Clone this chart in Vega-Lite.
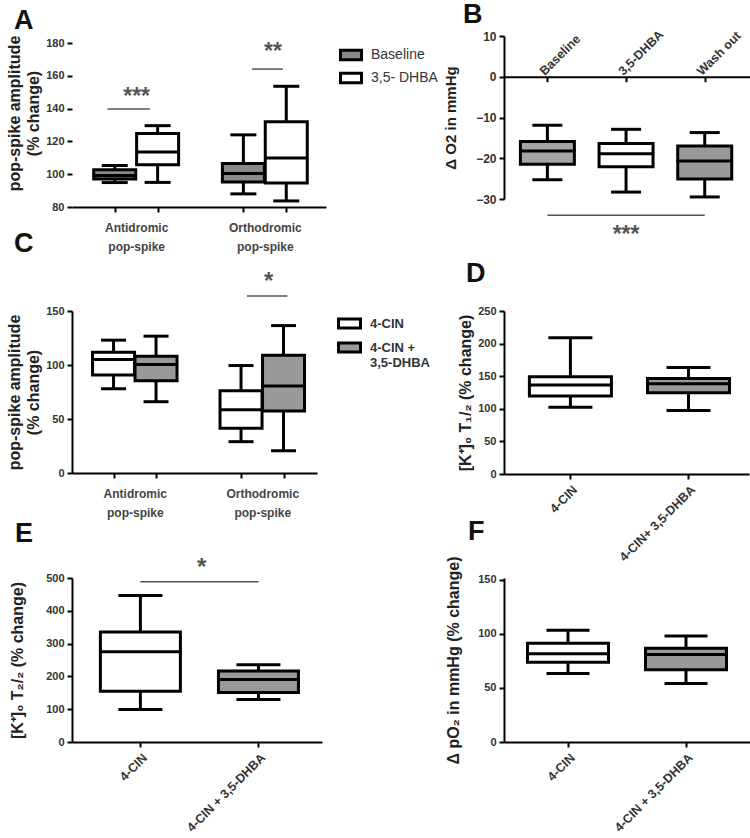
{
  "$schema": "https://vega.github.io/schema/vega-lite/v6.json",
  "background": "white",
  "padding": {"left": 6, "top": 0, "right": 0, "bottom": 0},
  "config": {
    "font": "Liberation Sans",
    "view": {"stroke": null},
    "axis": {"domainColor": "black", "domainWidth": 2, "tickColor": "black", "tickWidth": 2, "tickSize": 5, "labelFont": "Liberation Sans", "labelFontWeight": "bold", "labelFontSize": 11, "labelColor": "#333", "labelOverlap": false, "grid": false, "titleFont": "Liberation Sans", "titleFontWeight": "bold", "titleFontSize": 16, "titleColor": "#222", "labelPadding": 3, "titlePadding": 4},
    "tick": {"opacity": 1},
    "title": {"fontSize": 27, "fontWeight": "bold", "anchor": "start", "frame": "group", "color": "#111", "baseline": "alphabetic"},
    "legend": {"labelFont": "Liberation Sans", "labelColor": "#333"}
  },
  "datasets": {
    "A": [
      {"group": "Antidromic", "cond": "Baseline", "pos": 1, "min": 94.9, "q1": 97.0, "median": 99.2, "q3": 102.7, "max": 105.3},
      {"group": "Antidromic", "cond": "3,5- DHBA", "pos": 2, "min": 95.0, "q1": 105.8, "median": 113.5, "q3": 124.8, "max": 129.6},
      {"group": "Orthodromic", "cond": "Baseline", "pos": 4, "min": 88.0, "q1": 95.2, "median": 100.5, "q3": 106.5, "max": 124.0},
      {"group": "Orthodromic", "cond": "3,5- DHBA", "pos": 5, "min": 83.7, "q1": 94.7, "median": 109.9, "q3": 132.0, "max": 153.6}
    ],
    "A_sig": [
      {"from": 0.83, "to": 1.82, "y": 139.8, "label": "***", "at": 1.51, "ty": 150.3},
      {"from": 4.2, "to": 4.92, "y": 164.1, "label": "**", "at": 4.69, "ty": 177.6}
    ],
    "B": [
      {"cond": "Baseline", "pos": 1, "min": -25.3, "q1": -21.5, "median": -18.2, "q3": -15.9, "max": -11.9},
      {"cond": "3,5-DHBA", "pos": 2, "min": -28.3, "q1": -22.1, "median": -18.9, "q3": -16.4, "max": -12.9},
      {"cond": "Wash out", "pos": 3, "min": -29.5, "q1": -25.1, "median": -20.7, "q3": -17.0, "max": -13.7}
    ],
    "B_sig": [
      {"from": 1, "to": 3, "y": -34, "label": "***", "at": 2, "ty": -37.6}
    ],
    "C": [
      {"group": "Antidromic", "cond": "4-CIN", "pos": 1, "min": 78, "q1": 90.7, "median": 105, "q3": 111.9, "max": 123},
      {"group": "Antidromic", "cond": "4-CIN + 3,5-DHBA", "pos": 2, "min": 66, "q1": 85.5, "median": 100.5, "q3": 108.2, "max": 126.7},
      {"group": "Orthodromic", "cond": "4-CIN", "pos": 4, "min": 29, "q1": 41.5, "median": 58.5, "q3": 76.2, "max": 99.5},
      {"group": "Orthodromic", "cond": "4-CIN + 3,5-DHBA", "pos": 5, "min": 20.6, "q1": 57.5, "median": 80.5, "q3": 109, "max": 136.5}
    ],
    "C_sig": [
      {"from": 4.14, "to": 5.09, "y": 164, "label": "*", "at": 4.65, "ty": 181.5}
    ],
    "D": [
      {"cond": "4-CIN", "pos": 1, "min": 102.5, "q1": 119.7, "median": 136.5, "q3": 149.2, "max": 208.8},
      {"cond": "4-CIN+ 3,5-DHBA", "pos": 2, "min": 97.5, "q1": 124.7, "median": 138.5, "q3": 146.6, "max": 163.4}
    ],
    "E": [
      {"cond": "4-CIN", "pos": 1, "min": 99, "q1": 155, "median": 275.5, "q3": 335.5, "max": 447},
      {"cond": "4-CIN + 3,5-DHBA", "pos": 2, "min": 129.6, "q1": 151, "median": 190.8, "q3": 216.3, "max": 235.7}
    ],
    "E_sig": [
      {"from": 1, "to": 2, "y": 488.8, "label": "*", "at": 1.52, "ty": 546}
    ],
    "F": [
      {"cond": "4-CIN", "pos": 1, "min": 63.4, "q1": 73.9, "median": 81.6, "q3": 91.5, "max": 103.5},
      {"cond": "4-CIN + 3,5-DHBA", "pos": 2, "min": 54.2, "q1": 66.8, "median": 81.0, "q3": 86.8, "max": 98.2}
    ]
  },
  "columns": 2,
  "spacing": {"row": 104, "column": 178},
  "bounds": "flush",
  "resolve": {
    "scale": {"x": "independent", "y": "independent", "fill": "independent"},
    "axis": {"x": "independent", "y": "independent"},
    "legend": {"fill": "independent"}
  },
  "concat": [
    {
      "width": 254, "height": 171,
      "title": {"text": "A", "dx": -58, "offset": 0},
      "data": {"name": "A"},
      "encoding": {
        "x": {"field": "pos", "type": "quantitative", "title": null,
          "scale": {"domain": [0.12, 5.81], "nice": false, "zero": false},
          "axis": {"values": [1, 1.5, 2, 4, 4.5, 5], "labelExpr": "datum.value == 1.5 ? ['Antidromic', 'pop-spike'] : datum.value == 4.5 ? ['Orthodromic', 'pop-spike'] : ''", "tickOpacity": {"condition": {"test": "datum.value == 1.5 || datum.value == 4.5", "value": 0}, "value": 1}, "labelFontSize": 12, "labelPadding": 10, "labelLineHeight": 19, "labelColor": "#444", "labelFlush": false, "labelOverlap": false}}
      },
      "layer": [
        {"mark": {"type": "rule", "strokeWidth": 3, "color": "black"},
          "encoding": {"y": {"field": "min", "type": "quantitative", "title": ["pop-spike amplitude", "(% change)"], "scale": {"domain": [80, 184.27], "nice": false, "zero": false}, "axis": {"values": [80, 100, 120, 140, 160, 180], "labelOverlap": false, "domain": false, "titleLineHeight": 19, "titleY": 77}}, "y2": {"field": "max"}}},
        {"mark": {"type": "bar", "width": 42, "stroke": "black", "strokeWidth": 3, "orient": "vertical"},
          "encoding": {"y": {"field": "q1", "type": "quantitative", "title": ["pop-spike amplitude", "(% change)"], "axis": {"values": [80, 100, 120, 140, 160, 180], "labelOverlap": false, "domain": false, "titleLineHeight": 19, "titleY": 77}}, "y2": {"field": "q3"},
            "fill": {"field": "cond", "type": "nominal", "scale": {"domain": ["Baseline", "3,5- DHBA"], "range": ["#8a8a8a", "white"]},
              "legend": {"title": null, "orient": "none", "legendX": 267, "legendY": 7, "symbolType": "M-1,-0.45H1V0.45H-1Z", "symbolSize": 441, "symbolStrokeColor": "black", "symbolStrokeWidth": 3, "symbolOpacity": 1, "labelFontSize": 14, "labelFontWeight": "normal", "labelOffset": 8, "rowPadding": 0}}}},
        {"mark": {"type": "tick", "orient": "horizontal", "thickness": 3, "size": 44, "color": "black"},
          "encoding": {"y": {"field": "median", "type": "quantitative", "title": ["pop-spike amplitude", "(% change)"], "axis": {"values": [80, 100, 120, 140, 160, 180], "labelOverlap": false, "domain": false, "titleLineHeight": 19, "titleY": 77}}}},
        {"mark": {"type": "tick", "orient": "horizontal", "thickness": 3, "size": 26, "color": "black"},
          "encoding": {"y": {"field": "min", "type": "quantitative", "title": ["pop-spike amplitude", "(% change)"], "axis": {"values": [80, 100, 120, 140, 160, 180], "labelOverlap": false, "domain": false, "titleLineHeight": 19, "titleY": 77}}}},
        {"mark": {"type": "tick", "orient": "horizontal", "thickness": 3, "size": 26, "color": "black"},
          "encoding": {"y": {"field": "max", "type": "quantitative", "title": ["pop-spike amplitude", "(% change)"], "axis": {"values": [80, 100, 120, 140, 160, 180], "labelOverlap": false, "domain": false, "titleLineHeight": 19, "titleY": 77}}}},
        {"data": {"values": [{}]}, "mark": {"type": "rule", "strokeWidth": 2, "color": "black"},
          "encoding": {"x": {"datum": 0.12, "type": "quantitative"}, "y": {"datum": 80, "type": "quantitative", "title": ["pop-spike amplitude", "(% change)"], "axis": {"values": [80, 100, 120, 140, 160, 180], "labelOverlap": false, "domain": false, "titleLineHeight": 19, "titleY": 77}}, "y2": {"datum": 180}}},
        {"data": {"name": "A_sig"}, "mark": {"type": "rule", "strokeWidth": 1.5, "color": "#555"},
          "encoding": {"x": {"field": "from", "type": "quantitative"}, "x2": {"field": "to"}, "y": {"field": "y", "type": "quantitative", "title": ["pop-spike amplitude", "(% change)"], "axis": {"values": [80, 100, 120, 140, 160, 180], "labelOverlap": false, "domain": false, "titleLineHeight": 19, "titleY": 77}}}},
        {"data": {"name": "A_sig"}, "mark": {"type": "text", "fontSize": 23, "fontWeight": "bold", "color": "#555", "dy": 5},
          "encoding": {"x": {"field": "at", "type": "quantitative"}, "y": {"field": "ty", "type": "quantitative", "title": ["pop-spike amplitude", "(% change)"], "axis": {"values": [80, 100, 120, 140, 160, 180], "labelOverlap": false, "domain": false, "titleLineHeight": 19, "titleY": 77}}, "text": {"field": "label"}}}
      ]
    },
    {
      "width": 246, "height": 163,
      "title": {"text": "B", "dx": -41, "offset": -1},
      "data": {"name": "B"},
      "encoding": {
        "x": {"field": "pos", "type": "quantitative", "title": null,
          "scale": {"domain": [0.512, 3.512], "nice": false, "zero": false},
          "axis": {"orient": "top", "offset": -40.75, "values": [1, 2, 3], "labelExpr": "datum.value == 1 ? 'Baseline' : datum.value == 2 ? '3,5-DHBA' : 'Wash out'", "labelAngle": -45, "labelAlign": "left", "labelBaseline": "middle", "labelFontSize": 12.5, "tickSize": -5, "labelPadding": 9, "labelOffset": -6, "labelFlush": false, "labelOverlap": false}}
      },
      "layer": [
        {"mark": {"type": "rule", "strokeWidth": 3, "color": "black"},
          "encoding": {"y": {"field": "min", "type": "quantitative", "title": "Δ O2 in mmHg", "scale": {"domain": [-30, 10], "nice": false, "zero": false}, "axis": {"values": [10, 0, -10, -20, -30], "labelOverlap": false, "titleFontSize": 15, "labelFontSize": 12, "titlePadding": 17}}, "y2": {"field": "max"}}},
        {"mark": {"type": "bar", "width": 54, "stroke": "black", "strokeWidth": 3, "orient": "vertical"},
          "encoding": {"y": {"field": "q1", "type": "quantitative", "title": "Δ O2 in mmHg", "axis": {"values": [10, 0, -10, -20, -30], "labelOverlap": false, "titleFontSize": 15, "labelFontSize": 12, "titlePadding": 17}}, "y2": {"field": "q3"},
            "fill": {"field": "cond", "type": "nominal", "scale": {"domain": ["Baseline", "3,5-DHBA", "Wash out"], "range": ["#a5a5a5", "white", "#999999"]}, "legend": null}}},
        {"mark": {"type": "tick", "orient": "horizontal", "thickness": 3, "size": 56, "color": "black"},
          "encoding": {"y": {"field": "median", "type": "quantitative", "title": "Δ O2 in mmHg", "axis": {"values": [10, 0, -10, -20, -30], "labelOverlap": false, "titleFontSize": 15, "labelFontSize": 12, "titlePadding": 17}}}},
        {"mark": {"type": "tick", "orient": "horizontal", "thickness": 3, "size": 30, "color": "black"},
          "encoding": {"y": {"field": "min", "type": "quantitative", "title": "Δ O2 in mmHg", "axis": {"values": [10, 0, -10, -20, -30], "labelOverlap": false, "titleFontSize": 15, "labelFontSize": 12, "titlePadding": 17}}}},
        {"mark": {"type": "tick", "orient": "horizontal", "thickness": 3, "size": 30, "color": "black"},
          "encoding": {"y": {"field": "max", "type": "quantitative", "title": "Δ O2 in mmHg", "axis": {"values": [10, 0, -10, -20, -30], "labelOverlap": false, "titleFontSize": 15, "labelFontSize": 12, "titlePadding": 17}}}},
        {"data": {"name": "B_sig"}, "mark": {"type": "rule", "strokeWidth": 1.5, "color": "#555"},
          "encoding": {"x": {"field": "from", "type": "quantitative"}, "x2": {"field": "to"}, "y": {"field": "y", "type": "quantitative", "title": "Δ O2 in mmHg", "axis": {"values": [10, 0, -10, -20, -30], "labelOverlap": false, "titleFontSize": 15, "labelFontSize": 12, "titlePadding": 17}}}},
        {"data": {"name": "B_sig"}, "mark": {"type": "text", "fontSize": 23, "fontWeight": "bold", "color": "#555", "dy": 5},
          "encoding": {"x": {"field": "at", "type": "quantitative"}, "y": {"field": "ty", "type": "quantitative", "title": "Δ O2 in mmHg", "axis": {"values": [10, 0, -10, -20, -30], "labelOverlap": false, "titleFontSize": 15, "labelFontSize": 12, "titlePadding": 17}}, "text": {"field": "label"}}}
      ]
    },
    {
      "width": 245, "height": 162,
      "title": {"text": "C", "dx": -58, "offset": 12},
      "data": {"name": "C"},
      "encoding": {
        "x": {"field": "pos", "type": "quantitative", "title": null,
          "scale": {"domain": [0.14, 5.67], "nice": false, "zero": false},
          "axis": {"values": [1, 1.5, 2, 4, 4.5, 5], "labelExpr": "datum.value == 1.5 ? ['Antidromic', 'pop-spike'] : datum.value == 4.5 ? ['Orthodromic', 'pop-spike'] : ''", "tickOpacity": {"condition": {"test": "datum.value == 1.5 || datum.value == 4.5", "value": 0}, "value": 1}, "labelFontSize": 12, "labelPadding": 10, "labelLineHeight": 19, "labelColor": "#444", "labelFlush": false, "labelOverlap": false}}
      },
      "layer": [
        {"mark": {"type": "rule", "strokeWidth": 3, "color": "black"},
          "encoding": {"y": {"field": "min", "type": "quantitative", "title": ["pop-spike amplitude", "(% change)"], "scale": {"domain": [0, 150], "nice": false, "zero": false}, "axis": {"values": [0, 50, 100, 150], "labelOverlap": false, "titleLineHeight": 19}}, "y2": {"field": "max"}}},
        {"mark": {"type": "bar", "width": 42, "stroke": "black", "strokeWidth": 3, "orient": "vertical"},
          "encoding": {"y": {"field": "q1", "type": "quantitative", "title": ["pop-spike amplitude", "(% change)"]}, "y2": {"field": "q3"},
            "fill": {"field": "cond", "type": "nominal", "scale": {"domain": ["4-CIN", "4-CIN + 3,5-DHBA"], "range": ["white", "#999999"]},
              "legend": {"title": null, "orient": "none", "legendX": 265, "legendY": 0, "symbolType": "M-1,-0.42H1V0.42H-1Z", "symbolSize": 484, "symbolStrokeColor": "black", "symbolStrokeWidth": 3, "symbolOpacity": 1, "labelFontSize": 13, "labelFontWeight": "bold", "labelOffset": 8, "rowPadding": 0, "labelExpr": "datum.label == '4-CIN + 3,5-DHBA' ? ['4-CIN +', '3,5-DHBA'] : datum.label"}}}},
        {"mark": {"type": "tick", "orient": "horizontal", "thickness": 3, "size": 44, "color": "black"},
          "encoding": {"y": {"field": "median", "type": "quantitative", "title": ["pop-spike amplitude", "(% change)"]}}},
        {"mark": {"type": "tick", "orient": "horizontal", "thickness": 3, "size": 25, "color": "black"},
          "encoding": {"y": {"field": "min", "type": "quantitative", "title": ["pop-spike amplitude", "(% change)"]}}},
        {"mark": {"type": "tick", "orient": "horizontal", "thickness": 3, "size": 25, "color": "black"},
          "encoding": {"y": {"field": "max", "type": "quantitative", "title": ["pop-spike amplitude", "(% change)"]}}},
        {"data": {"name": "C_sig"}, "mark": {"type": "rule", "strokeWidth": 1.5, "color": "#555"},
          "encoding": {"x": {"field": "from", "type": "quantitative"}, "x2": {"field": "to"}, "y": {"field": "y", "type": "quantitative", "title": ["pop-spike amplitude", "(% change)"]}}},
        {"data": {"name": "C_sig"}, "mark": {"type": "text", "fontSize": 24, "fontWeight": "bold", "color": "#555", "dy": 5},
          "encoding": {"x": {"field": "at", "type": "quantitative"}, "y": {"field": "ty", "type": "quantitative", "title": ["pop-spike amplitude", "(% change)"]}, "text": {"field": "label"}}}
      ]
    },
    {
      "width": 245, "height": 163,
      "title": {"text": "D", "dx": -38, "offset": 17},
      "data": {"name": "D"},
      "encoding": {
        "x": {"field": "pos", "type": "quantitative", "title": null,
          "scale": {"domain": [0.48, 2.47], "nice": false, "zero": false},
          "axis": {"values": [1, 2], "labelExpr": "datum.value == 1 ? '4-CIN' : '4-CIN+ 3,5-DHBA'", "labelAngle": -45, "labelFontSize": 12.5, "labelPadding": 4, "labelFlush": false, "labelOverlap": false}}
      },
      "layer": [
        {"mark": {"type": "rule", "strokeWidth": 3, "color": "black"},
          "encoding": {"y": {"field": "min", "type": "quantitative", "title": "[K⁺]₀ T₁/₂ (% change)", "scale": {"domain": [0, 250], "nice": false, "zero": false}, "axis": {"values": [0, 50, 100, 150, 200, 250], "labelOverlap": false}}, "y2": {"field": "max"}}},
        {"mark": {"type": "bar", "width": 82, "stroke": "black", "strokeWidth": 3, "orient": "vertical"},
          "encoding": {"y": {"field": "q1", "type": "quantitative", "title": "[K⁺]₀ T₁/₂ (% change)", "axis": {"values": [0, 50, 100, 150, 200, 250], "labelOverlap": false}}, "y2": {"field": "q3"},
            "fill": {"field": "cond", "type": "nominal", "scale": {"domain": ["4-CIN", "4-CIN+ 3,5-DHBA"], "range": ["white", "#999999"]}, "legend": null}}},
        {"mark": {"type": "tick", "orient": "horizontal", "thickness": 3, "size": 84, "color": "black"},
          "encoding": {"y": {"field": "median", "type": "quantitative", "title": "[K⁺]₀ T₁/₂ (% change)", "axis": {"values": [0, 50, 100, 150, 200, 250], "labelOverlap": false}}}},
        {"mark": {"type": "tick", "orient": "horizontal", "thickness": 3, "size": 44, "color": "black"},
          "encoding": {"y": {"field": "min", "type": "quantitative", "title": "[K⁺]₀ T₁/₂ (% change)", "axis": {"values": [0, 50, 100, 150, 200, 250], "labelOverlap": false}}}},
        {"mark": {"type": "tick", "orient": "horizontal", "thickness": 3, "size": 44, "color": "black"},
          "encoding": {"y": {"field": "max", "type": "quantitative", "title": "[K⁺]₀ T₁/₂ (% change)", "axis": {"values": [0, 50, 100, 150, 200, 250], "labelOverlap": false}}}}
      ]
    },
    {
      "width": 250, "height": 164,
      "title": {"text": "E", "dx": -57, "offset": 8},
      "data": {"name": "E"},
      "encoding": {
        "x": {"field": "pos", "type": "quantitative", "title": null,
          "scale": {"domain": [0.463, 2.496], "nice": false, "zero": false},
          "axis": {"values": [1, 2], "labelExpr": "datum.value == 1 ? '4-CIN' : '4-CIN + 3,5-DHBA'", "labelAngle": -45, "labelFontSize": 12.5, "labelPadding": 4, "labelFlush": false, "labelOverlap": false}}
      },
      "layer": [
        {"mark": {"type": "rule", "strokeWidth": 3, "color": "black"},
          "encoding": {"y": {"field": "min", "type": "quantitative", "title": "[K⁺]₀ T₂/₂ (% change)", "scale": {"domain": [0, 500], "nice": false, "zero": false}, "axis": {"values": [0, 100, 200, 300, 400, 500], "labelOverlap": false, "titlePadding": 20}}, "y2": {"field": "max"}}},
        {"mark": {"type": "bar", "width": 80, "stroke": "black", "strokeWidth": 3, "orient": "vertical"},
          "encoding": {"y": {"field": "q1", "type": "quantitative", "title": "[K⁺]₀ T₂/₂ (% change)", "axis": {"values": [0, 100, 200, 300, 400, 500], "labelOverlap": false, "titlePadding": 20}}, "y2": {"field": "q3"},
            "fill": {"field": "cond", "type": "nominal", "scale": {"domain": ["4-CIN", "4-CIN + 3,5-DHBA"], "range": ["white", "#999999"]}, "legend": null}}},
        {"mark": {"type": "tick", "orient": "horizontal", "thickness": 3, "size": 82, "color": "black"},
          "encoding": {"y": {"field": "median", "type": "quantitative", "title": "[K⁺]₀ T₂/₂ (% change)", "axis": {"values": [0, 100, 200, 300, 400, 500], "labelOverlap": false, "titlePadding": 20}}}},
        {"mark": {"type": "tick", "orient": "horizontal", "thickness": 3, "size": 44, "color": "black"},
          "encoding": {"y": {"field": "min", "type": "quantitative", "title": "[K⁺]₀ T₂/₂ (% change)", "axis": {"values": [0, 100, 200, 300, 400, 500], "labelOverlap": false, "titlePadding": 20}}}},
        {"mark": {"type": "tick", "orient": "horizontal", "thickness": 3, "size": 44, "color": "black"},
          "encoding": {"y": {"field": "max", "type": "quantitative", "title": "[K⁺]₀ T₂/₂ (% change)", "axis": {"values": [0, 100, 200, 300, 400, 500], "labelOverlap": false, "titlePadding": 20}}}},
        {"data": {"name": "E_sig"}, "mark": {"type": "rule", "strokeWidth": 1.5, "color": "#555"},
          "encoding": {"x": {"field": "from", "type": "quantitative"}, "x2": {"field": "to"}, "y": {"field": "y", "type": "quantitative", "title": "[K⁺]₀ T₂/₂ (% change)", "axis": {"values": [0, 100, 200, 300, 400, 500], "labelOverlap": false, "titlePadding": 20}}}},
        {"data": {"name": "E_sig"}, "mark": {"type": "text", "fontSize": 24, "fontWeight": "bold", "color": "#555", "dy": 5},
          "encoding": {"x": {"field": "at", "type": "quantitative"}, "y": {"field": "ty", "type": "quantitative", "title": "[K⁺]₀ T₂/₂ (% change)", "axis": {"values": [0, 100, 200, 300, 400, 500], "labelOverlap": false, "titlePadding": 20}}, "text": {"field": "label"}}}
      ]
    },
    {
      "width": 246, "height": 164,
      "title": {"text": "F", "dx": -36, "offset": 10},
      "data": {"name": "F"},
      "encoding": {
        "x": {"field": "pos", "type": "quantitative", "title": null,
          "scale": {"domain": [0.5, 2.5], "nice": false, "zero": false},
          "axis": {"values": [1, 2], "labelExpr": "datum.value == 1 ? '4-CIN' : '4-CIN + 3,5-DHBA'", "labelAngle": -45, "labelFontSize": 12.5, "labelPadding": 4, "labelFlush": false, "labelOverlap": false}}
      },
      "layer": [
        {"mark": {"type": "rule", "strokeWidth": 3, "color": "black"},
          "encoding": {"y": {"field": "min", "type": "quantitative", "title": "Δ pO₂ in mmHg (% change)", "scale": {"domain": [0, 151.85], "nice": false, "zero": false}, "axis": {"values": [0, 50, 100, 150], "labelOverlap": false, "titlePadding": 16}}, "y2": {"field": "max"}}},
        {"mark": {"type": "bar", "width": 81, "stroke": "black", "strokeWidth": 3, "orient": "vertical"},
          "encoding": {"y": {"field": "q1", "type": "quantitative", "title": "Δ pO₂ in mmHg (% change)", "axis": {"values": [0, 50, 100, 150], "labelOverlap": false, "titlePadding": 16}}, "y2": {"field": "q3"},
            "fill": {"field": "cond", "type": "nominal", "scale": {"domain": ["4-CIN", "4-CIN + 3,5-DHBA"], "range": ["white", "#999999"]}, "legend": null}}},
        {"mark": {"type": "tick", "orient": "horizontal", "thickness": 3, "size": 83, "color": "black"},
          "encoding": {"y": {"field": "median", "type": "quantitative", "title": "Δ pO₂ in mmHg (% change)", "axis": {"values": [0, 50, 100, 150], "labelOverlap": false, "titlePadding": 16}}}},
        {"mark": {"type": "tick", "orient": "horizontal", "thickness": 3, "size": 43, "color": "black"},
          "encoding": {"y": {"field": "min", "type": "quantitative", "title": "Δ pO₂ in mmHg (% change)", "axis": {"values": [0, 50, 100, 150], "labelOverlap": false, "titlePadding": 16}}}},
        {"mark": {"type": "tick", "orient": "horizontal", "thickness": 3, "size": 43, "color": "black"},
          "encoding": {"y": {"field": "max", "type": "quantitative", "title": "Δ pO₂ in mmHg (% change)", "axis": {"values": [0, 50, 100, 150], "labelOverlap": false, "titlePadding": 16}}}}
      ]
    }
  ]
}
